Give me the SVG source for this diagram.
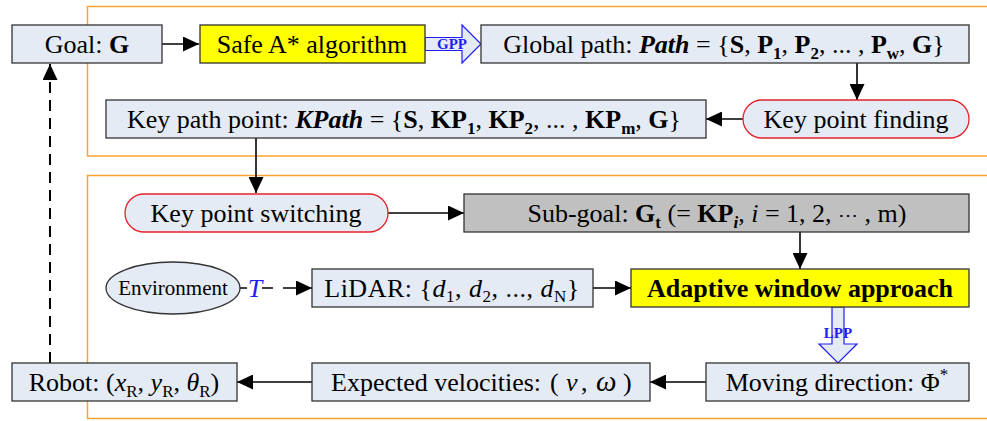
<svg xmlns="http://www.w3.org/2000/svg" width="987" height="421" viewBox="0 0 987 421" font-family="'Liberation Serif', 'Times New Roman', 'DejaVu Serif', serif">
<style>
text{font-family:'Liberation Serif','Times New Roman','DejaVu Serif',serif;font-size:26px;fill:#000;text-anchor:middle}
.box{fill:#E4EBF5;stroke:#333;stroke-width:1.3}
.round{fill:#E4EBF5;stroke:#E8202A;stroke-width:1.3}
.frame{fill:none;stroke:#F7A530;stroke-width:1.5}
.con{fill:none;stroke:#000;stroke-width:1.6}
.dash{fill:none;stroke:#000;stroke-width:2;stroke-dasharray:11 7}
.big{fill:#E4EBF5;stroke:#1E1EF0;stroke-width:1.2}
.lbl{font-size:15px;font-weight:bold;fill:#1E1EF0}
.b{font-weight:bold}
.i{font-style:italic}
.bi{font-weight:bold;font-style:italic}
</style>
<defs>
<marker id="ah" markerUnits="userSpaceOnUse" markerWidth="17" markerHeight="15" refX="16" refY="7.5" orient="auto">
<path d="M0,0 L16,7.5 L0,15 z" fill="#000"/>
</marker>
</defs>
<rect width="987" height="421" fill="#fff"/>
<rect class="frame" x="87.5" y="6.5" width="920" height="149.5"/>
<rect class="frame" x="87.5" y="175.5" width="920" height="243"/>

<g id="connectors">
<path class="con" d="M162 44 H199" marker-end="url(#ah)"/>
<path class="con" d="M857 63 V100" marker-end="url(#ah)"/>
<path class="con" d="M743 119 H706" marker-end="url(#ah)"/>
<path class="con" d="M256 138 V193" marker-end="url(#ah)"/>
<path class="con" d="M388 213 H464" marker-end="url(#ah)"/>
<path class="con" d="M800 232 V269" marker-end="url(#ah)"/>
<path class="con" d="M593 288 H631" marker-end="url(#ah)"/>
<path class="con" d="M706 382 H650" marker-end="url(#ah)"/>
<path class="con" d="M312 382 H237" marker-end="url(#ah)"/>
<path class="dash" d="M50 363 V64" marker-end="url(#ah)"/>
<path class="con" d="M236 288 H247 M262 288 H273 M283 288 H312" marker-end="url(#ah)"/>
<text x="255" y="297" class="i" style="fill:#1E1EF0">T</text>
<polygon class="big" points="425,37.5 462,37.5 462,25 481,44 462,63 462,50.5 425,50.5"/>
<text x="452" y="49" class="lbl">GPP</text>
<polygon class="big" points="832,307 844,307 844,344 857,344 838,363 819,344 832,344"/>
<text x="838" y="338" class="lbl">LPP</text>
</g>

<g id="goal">
<rect class="box" x="12" y="25" width="150" height="38"/>
<text x="87" y="53">Goal: <tspan class="b">G</tspan></text>
</g>
<g id="safe-astar">
<rect class="box" x="200" y="25" width="225" height="38" style="fill:#FFFF00"/>
<text x="312" y="53">Safe A* algorithm</text>
</g>
<g id="global-path">
<rect class="box" x="481" y="25" width="488" height="38"/>
<text x="724" y="53">Global path: <tspan class="bi">Path</tspan> = {<tspan class="b">S</tspan>, <tspan class="b">P</tspan><tspan class="b" font-size="17" dy="6">1</tspan><tspan dy="-6">, </tspan><tspan class="b">P</tspan><tspan class="b" font-size="17" dy="6">2</tspan><tspan dy="-6">, ... , </tspan><tspan class="b">P</tspan><tspan class="b" font-size="17" dy="6">w</tspan><tspan dy="-6">, </tspan><tspan class="b">G</tspan>}</text>
</g>
<g id="key-point-finding">
<rect class="round" x="743" y="100" width="226" height="38" rx="19"/>
<text x="856" y="128">Key point finding</text>
</g>
<g id="key-path">
<rect class="box" x="106" y="100" width="600" height="38"/>
<text x="404" y="128">Key path point: <tspan class="bi">KPath</tspan> = {<tspan class="b">S</tspan>, <tspan class="b">KP</tspan><tspan class="b" font-size="17" dy="6">1</tspan><tspan dy="-6">, </tspan><tspan class="b">KP</tspan><tspan class="b" font-size="17" dy="6">2</tspan><tspan dy="-6">, ... , </tspan><tspan class="b">KP</tspan><tspan class="b" font-size="17" dy="6">m</tspan><tspan dy="-6">, </tspan><tspan class="b">G</tspan>}</text>
</g>
<g id="key-point-switching">
<rect class="round" x="125" y="194" width="263" height="38" rx="19"/>
<text x="256" y="222">Key point switching</text>
</g>
<g id="sub-goal">
<rect class="box" x="464" y="194" width="505" height="38" style="fill:#C0C0C0"/>
<text x="717" y="222">Sub-goal: <tspan class="b">G</tspan><tspan class="b" font-size="17" dy="6">t</tspan><tspan dy="-6"> (= </tspan><tspan class="b">KP</tspan><tspan class="bi" font-size="17" dy="6">i</tspan><tspan dy="-6">, </tspan><tspan class="i">i</tspan> = 1, 2, <tspan font-size="20">⋯</tspan> , m)</text>
</g>
<g id="environment">
<ellipse cx="173" cy="288" rx="67" ry="26" fill="#E4EBF5" stroke="#333" stroke-width="1.3"/>
<text x="173" y="295" style="font-size:21px">Environment</text>
</g>
<g id="lidar">
<rect class="box" x="312" y="269" width="281" height="38"/>
<text x="452" y="297" letter-spacing="0.5">LiDAR: {<tspan class="i">d</tspan><tspan font-size="17" dy="5">1</tspan><tspan dy="-5">, </tspan><tspan class="i">d</tspan><tspan font-size="17" dy="5">2</tspan><tspan dy="-5">, ..., </tspan><tspan class="i">d</tspan><tspan font-size="17" dy="5">N</tspan><tspan dy="-5">}</tspan></text>
</g>
<g id="adaptive-window">
<rect class="box" x="631" y="269" width="338" height="38" style="fill:#FFFF00"/>
<text x="800" y="297" class="b">Adaptive window approach</text>
</g>
<g id="moving-direction">
<rect class="box" x="706" y="363" width="263" height="38"/>
<text x="837" y="391">Moving direction: Φ<tspan font-size="17" dy="-11">*</tspan></text>
</g>
<g id="expected-velocities">
<rect class="box" x="312" y="363" width="338" height="38"/>
<text x="331" y="391" style="text-anchor:start">Expected velocities:<tspan x="550">(</tspan><tspan x="566" class="i">v</tspan><tspan x="581">,</tspan><tspan x="596" class="i" font-size="29">ω</tspan><tspan x="623">)</tspan></text>
</g>
<g id="robot">
<rect class="box" x="12" y="363" width="225" height="38"/>
<text x="124" y="391">Robot: (<tspan class="i">x</tspan><tspan font-size="17" dy="6">R</tspan><tspan dy="-6">, </tspan><tspan class="i">y</tspan><tspan font-size="17" dy="6">R</tspan><tspan dy="-6">, </tspan><tspan class="i">θ</tspan><tspan font-size="17" dy="6">R</tspan><tspan dy="-6">)</tspan></text>
</g>
</svg>
